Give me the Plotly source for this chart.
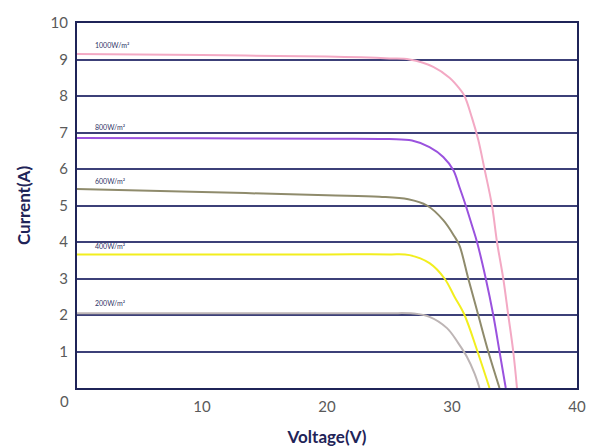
import plotly.graph_objects as go

# ---- data ----
labels = ["1000W/m²", "800W/m²", "600W/m²", "400W/m²", "200W/m²"]
colors = ["#f3a9c4", "#9a52de", "#8f8b6c", "#f2ee1e", "#bdb5b5"]

v1000 = [0, 10, 20, 25, 26.6, 28.5, 29.8, 30.6, 31.0, 31.6, 32.1, 32.6, 33.2, 33.6, 34.1, 34.5, 34.9, 35.2]
i1000 = [9.15, 9.12, 9.08, 9.03, 9.0, 8.8, 8.5, 8.2, 8.0, 7.4, 6.8, 6.0, 5.0, 4.0, 3.0, 2.0, 1.0, 0.0]

v800 = [0, 10, 20, 25, 26.8, 28.2, 29.3, 30.1, 30.6, 31.1, 31.6, 32.0, 32.7, 33.3, 33.8, 34.3]
i800 = [6.85, 6.84, 6.83, 6.82, 6.78, 6.6, 6.33, 5.97, 5.5, 5.0, 4.45, 4.0, 3.0, 2.0, 1.0, 0.0]

v600 = [0, 10, 20, 24.2, 26.5, 28.0, 29.3, 30.2, 30.6, 31.3, 32.1, 32.9, 33.8]
i600 = [5.45, 5.37, 5.28, 5.24, 5.17, 5.0, 4.6, 4.15, 3.9, 3.0, 2.0, 1.0, 0.0]

v400 = [0, 10, 20, 25, 26.6, 28.2, 29.4, 30.2, 31.0, 32.0, 33.0]
i400 = [3.66, 3.66, 3.66, 3.66, 3.64, 3.42, 3.0, 2.5, 2.0, 1.04, 0.0]

v200 = [0, 10, 20, 25, 26.9, 28.2, 29.6, 30.5, 31.2, 31.8, 32.2]
i200 = [2.05, 2.05, 2.05, 2.05, 2.04, 1.95, 1.64, 1.23, 0.85, 0.4, 0.0]

label_v = [1.3, 1.3, 1.3, 1.3, 1.3]
label_i = [9.4, 7.15, 5.67, 3.9, 2.33]

x_ticks = [10, 20, 30, 40]
y_ticks = [1, 2, 3, 4, 5, 6, 7, 8, 9, 10]

series = [(v1000, i1000), (v800, i800), (v600, i600), (v400, i400), (v200, i200)]

navy = "#1f2458"
fig = go.Figure()

for (v, i), c, name in zip(series, colors, labels):
    fig.add_trace(go.Scatter(x=v, y=i, mode="lines", name=name,
                             line=dict(color=c, width=2, shape="spline", smoothing=1.0),
                             showlegend=False))

for lx, ly, name in zip(label_v, label_i, labels):
    fig.add_annotation(x=lx, y=ly, text=name, showarrow=False, xanchor="left",
                       font=dict(size=7, color="#2e3466", family="Lato"))

# shared corner "0"
fig.add_annotation(xref="paper", yref="paper", x=-0.026, y=-0.036, text="0",
                   xanchor="center", yanchor="middle",
                   showarrow=False, font=dict(size=15, color="#5a5a5a", family="Lato"))

# page body has an 8px margin, so the figure is sized to fit inside the window
fig.update_layout(
    width=595, height=439,
    margin=dict(l=69, r=26, t=15, b=59, autoexpand=False),
    paper_bgcolor="white", plot_bgcolor="white",
    font=dict(family="Lato", color="#5a5a5a"),
)
fig.update_xaxes(range=[0, 40], tickvals=x_ticks, showgrid=False, zeroline=False, automargin=False,
                 showline=True, linecolor=navy, linewidth=2, mirror=True,
                 ticks="", ticklabelstandoff=4, tickfont=dict(size=15, color="#5a5a5a"),
                 title=dict(text="<b>Voltage(V)</b>", font=dict(size=17, color=navy, family="Lato"), standoff=18))
fig.update_yaxes(range=[0, 10], tickvals=y_ticks, showgrid=True, gridcolor="#3c4078", gridwidth=1.5,
                 zeroline=False, showline=True, linecolor=navy, linewidth=2, mirror=True, automargin=False,
                 ticks="", ticklabelstandoff=4, tickfont=dict(size=15, color="#5a5a5a"),
                 title=dict(text="<b>Current(A)</b>", font=dict(size=17, color=navy, family="Lato"), standoff=16))

fig.write_html("out.html")
